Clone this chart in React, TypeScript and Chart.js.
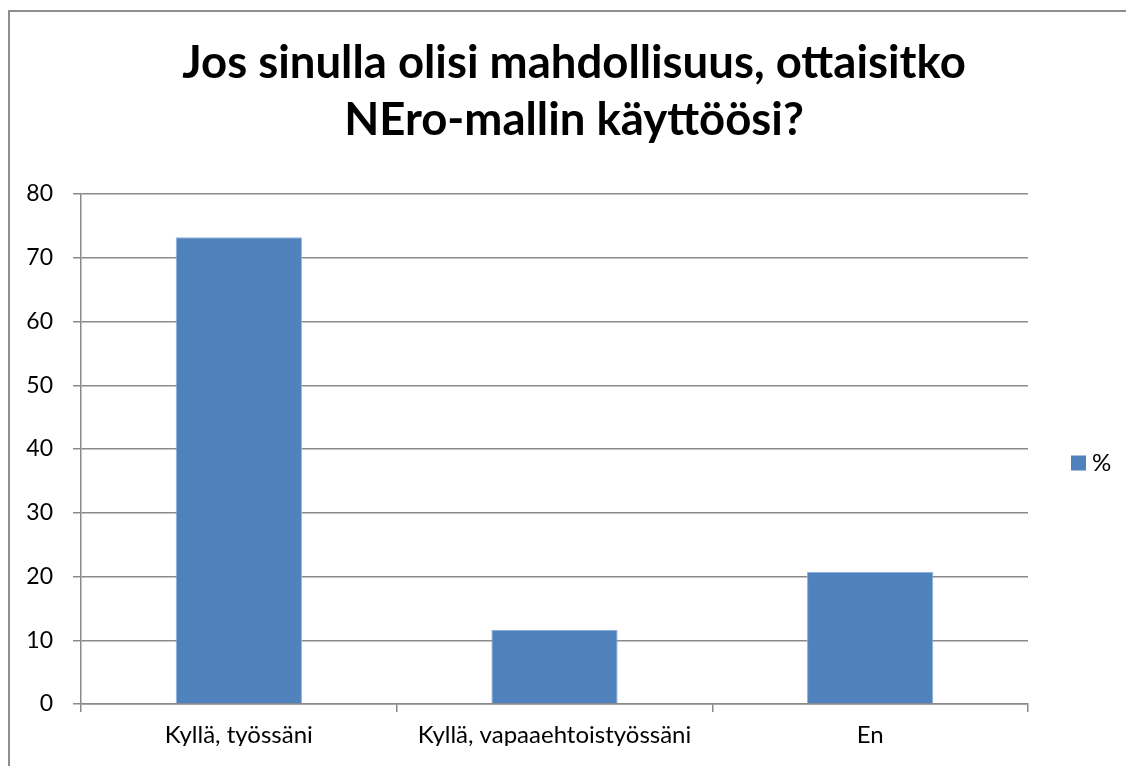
import React, { useEffect, useRef } from "react";
import { Chart, registerables } from "chart.js";

Chart.register(...registerables);

const categories = ["Kyllä, työssäni", "Kyllä, vapaaehtoistyössäni", "En"];
const seriesLabel = "%";
const seriesValues = [73.2, 11.6, 20.7];
const titleLines = ["Jos sinulla olisi mahdollisuus, ottaisitko", "NEro-mallin käyttöösi?"];
const yMin = 0;
const yMax = 80;
const yStep = 10;

const FONT = "Lato, 'Open Sans', sans-serif";
const BAR = "#4f81bd";
const GRID = "#8a8a8a";

const titlePlugin = {
  id: "customTitle",
  afterDraw(chart: any) {
    const ctx = chart.ctx;
    ctx.save();
    ctx.fillStyle = "#000";
    ctx.textAlign = "center";
    ctx.textBaseline = "alphabetic";
    let size = 42;
    ctx.font = `bold ${size}px ${FONT}`;
    const w = ctx.measureText(titleLines[0]).width;
    size = size * 784 / w;
    ctx.font = `bold ${size}px ${FONT}`;
    ctx.fillText(titleLines[0], 574, 78);
    ctx.fillText(titleLines[1], 574, 135);
    ctx.restore();
  },
};

const legendPlugin = {
  id: "customLegend",
  afterDraw(chart: any) {
    const ctx = chart.ctx;
    const ds = chart.data.datasets[0];
    const area = chart.chartArea;
    const x = area.right + 43;
    const cy = (area.top + area.bottom) / 2 + 14;
    ctx.save();
    ctx.fillStyle = ds.backgroundColor;
    ctx.fillRect(x, cy - 7.5, 15, 15);
    ctx.fillStyle = "#000";
    ctx.font = `24px ${FONT}`;
    ctx.textAlign = "left";
    ctx.textBaseline = "middle";
    ctx.fillText(ds.label, x + 21, cy);
    ctx.restore();
  },
};

export default function App() {
  const ref = useRef<HTMLCanvasElement>(null);
  useEffect(() => {
    if (!ref.current) return;
    const chart = new Chart(ref.current, {
      type: "bar",
      data: {
        labels: categories,
        datasets: [
          {
            label: seriesLabel,
            data: seriesValues,
            backgroundColor: BAR,
            borderColor: "#8fb0d8",
            borderWidth: 1,
            categoryPercentage: 1,
            barPercentage: 0.4,
          },
        ],
      },
      options: {
        animation: false,
        responsive: false,
        maintainAspectRatio: false,
        layout: { padding: { left: 0, right: 98, top: 194, bottom: 20 } },
        plugins: {
          legend: { display: false },
          title: { display: false },
          tooltip: { enabled: false },
        },
        scales: {
          x: {
            offset: true,
            grid: {
              offset: true,
              drawOnChartArea: false,
              drawTicks: true,
              tickLength: 8,
              color: GRID,
              lineWidth: 1.5,
            },
            border: { display: true, color: GRID, width: 1.5 },
            ticks: {
              color: "#000",
              font: { family: FONT, size: 24 },
              padding: 9,
              maxRotation: 0,
              autoSkip: false,
            },
            afterFit(scale: any) {
              scale.height = 42;
            },
          },
          y: {
            min: yMin,
            max: yMax,
            grid: {
              color: GRID,
              lineWidth: 1.5,
              tickLength: 8,
            },
            border: { display: true, color: GRID, width: 1.5 },
            ticks: {
              stepSize: yStep,
              color: "#000",
              font: { family: FONT, size: 23 },
              padding: 20,
            },
            afterFit(scale: any) {
              scale.width = 81;
            },
          },
        },
      },
      plugins: [titlePlugin, legendPlugin],
    });
    return () => chart.destroy();
  }, []);

  return (
    <div style={{ position: "fixed", left: 0, top: 0, width: 1126, height: 766, background: "#fff", overflow: "hidden" }}>
      <canvas ref={ref} width={1126} height={766} style={{ position: "absolute", left: 0, top: 0, width: 1126, height: 766 }} />
      <div
        style={{
          position: "absolute",
          left: 8,
          top: 10,
          width: 1126,
          height: 766,
          borderLeft: "2px solid #8e8e8e",
          borderTop: "2px solid #8e8e8e",
          pointerEvents: "none",
        }}
      />
    </div>
  );
}
